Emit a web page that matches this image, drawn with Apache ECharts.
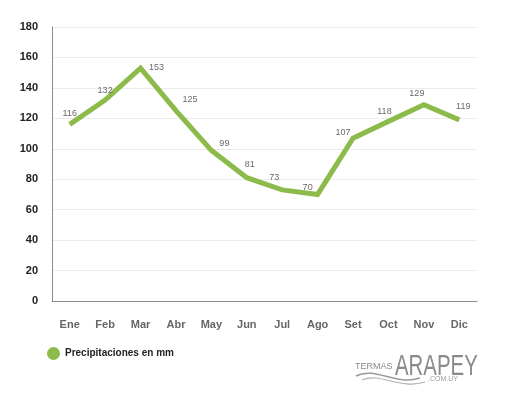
<!DOCTYPE html>
<html>
<head>
<meta charset="utf-8">
<script src="https://cdn.jsdelivr.net/npm/echarts@6/dist/echarts.min.js"></script>
<style>html,body{margin:0;padding:0;background:#fff;}#c{width:508px;height:393px;}</style>
</head>
<body>
<div id="c"></div>
<script>
const categories = ['Ene','Feb','Mar','Abr','May','Jun','Jul','Ago','Set','Oct','Nov','Dic'];
const precip = [116,132,153,125,99,81,73,70,107,118,129,119];
const seriesName = 'Precipitaciones en mm';
const yTicks = [0,20,40,60,80,100,120,140,160,180];

// label offsets (style only)
const labelOffsets = [[0,-6],[0,-5],[16,4],[14,-6],[13,-2],[3,-8],[-8,-7],[-10,-2],[-10,-1],[-4,-5],[-7,-6],[4,-8]];

const chart = echarts.init(document.getElementById('c'), null, {renderer:'canvas'});
const green = '#8cbb4b';
const option = {
  animation: false,
  backgroundColor: '#fff',
  grid: {left: 52, right: 31, top: 27, bottom: 92},
  xAxis: {
    type: 'category', data: categories, boundaryGap: true,
    axisLine: {show: true, lineStyle: {color: '#8c8c8c', width: 1}},
    axisTick: {show: false},
    axisLabel: {color: '#666', fontWeight: 'bold', fontSize: 11, fontFamily: 'Liberation Sans, Arial', margin: 18}
  },
  yAxis: {
    type: 'value', min: 0, max: 180, interval: 20,
    axisLine: {show: true, lineStyle: {color: '#8c8c8c', width: 1}},
    axisTick: {show: false},
    splitLine: {lineStyle: {color: '#ebebeb', width: 1}},
    axisLabel: {color: '#222', fontWeight: 'bold', fontSize: 11, fontFamily: 'Liberation Sans, Arial', margin: 14,
      formatter: v => yTicks.includes(v) ? String(v) : ''}
  },
  legend: {
    show: true, left: 42, top: 342, icon: 'circle', itemWidth: 13, itemHeight: 13, itemGap: 6,
    itemStyle: {color: green, opacity: 1, borderWidth: 0},
    textStyle: {color: '#222', fontWeight: 'bold', fontSize: 10, fontFamily: 'Liberation Sans, Arial'},
    data: [seriesName]
  },
  series: [{
    name: seriesName, type: 'line', color: green,
    data: precip.map((v, i) => ({value: v, label: {offset: labelOffsets[i]}})),
    showSymbol: true, symbol: 'circle', symbolSize: 1,
    itemStyle: {color: 'rgba(0,0,0,0)', borderWidth: 0},
    lineStyle: {color: green, width: 5, join: 'miter'},
    label: {show: true, position: 'top', distance: 0, color: '#6a6a6a', fontSize: 9, fontFamily: 'Liberation Sans, Arial'}
  }],
  graphic: [
    {type: 'text', left: 355, top: 362, style: {text: 'TERMAS', fill: '#8a8a8a', font: '9px Liberation Sans, Arial'}},
    {type: 'text', x: 395, y: 352, scaleX: 0.68, style: {text: 'ARAPEY', fill: '#8a8a8a', font: '30px Liberation Sans, Arial'}},
    {type: 'text', left: 428, top: 376, style: {text: '.COM.UY', fill: '#9a9a9a', font: '7px Liberation Sans, Arial'}},
    {type: 'bezierCurve', shape: {x1: 356, y1: 376, x2: 420, y2: 378, cpx1: 375, cpy1: 366, cpx2: 395, cpy2: 386}, style: {stroke: '#9a9a9a', lineWidth: 1.5, fill: null}},
    {type: 'bezierCurve', shape: {x1: 362, y1: 380, x2: 425, y2: 382, cpx1: 380, cpy1: 372, cpx2: 400, cpy2: 390}, style: {stroke: '#b0b0b0', lineWidth: 1.2, fill: null}}
  ]
};
chart.setOption(option);
</script>
</body>
</html>
